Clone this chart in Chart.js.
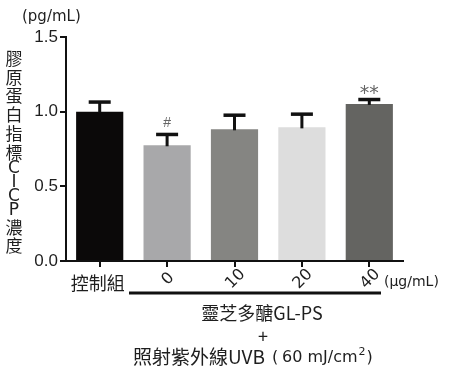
<!DOCTYPE html>
<html>
<head>
<meta charset="utf-8">
<script src="https://cdn.jsdelivr.net/npm/chart.js@4.4.1/dist/chart.umd.min.js"></script>
<style>
  html, body { margin: 0; padding: 0; background: #fff; }
</style>
</head>
<body>
<canvas id="myChart" width="450" height="370"></canvas>
<script>
// data
const groups   = ['控制組', '0', '10', '20', '40'];
const cicpMean = [1.00, 0.775, 0.882, 0.895, 1.052];
const cicpSem  = [0.066, 0.074, 0.096, 0.090, 0.031];
const marks    = ['', '#', '', '', '**'];
const yTicks   = [0, 0.5, 1.0, 1.5];
const barColors = ['#0b0909', '#a8a8aa', '#858582', '#dddddd', '#646461'];

const CJK = "'Noto Sans CJK TC', sans-serif";
const LAT = "'DejaVu Sans', 'Noto Sans CJK TC', sans-serif";
const ink = '#1e1e1e';

// error bars, stars and all the outer text
const extras = {
  id: 'extras',
  afterDatasetsDraw(chart) {
    const ctx = chart.ctx;
    const y = chart.scales.y;
    const bars = chart.getDatasetMeta(0).data;
    ctx.save();
    bars.forEach((bar, i) => {
      const top = y.getPixelForValue(cicpMean[i]);
      const errTop = y.getPixelForValue(cicpMean[i] + cicpSem[i]);
      ctx.fillStyle = '#111';
      ctx.fillRect(bar.x - 1.5, errTop, 3, top - errTop + 1);
      ctx.fillRect(bar.x - 11, errTop - 1.5, 22, 3.5);
      if (marks[i]) {
        ctx.fillStyle = '#666';
        ctx.textAlign = 'center';
        ctx.textBaseline = 'middle';
        if (marks[i] === '#') {
          ctx.font = "14px 'Liberation Sans', sans-serif";
          ctx.fillText(marks[i], bar.x, errTop - 11);
        } else {
          ctx.font = "19px 'DejaVu Sans', sans-serif";
          ctx.fillText(marks[i], bar.x, errTop - 5);
        }
      }
    });
    ctx.restore();
  },
  afterDraw(chart) {
    const ctx = chart.ctx;
    const x = chart.scales.x;
    ctx.save();
    ctx.fillStyle = ink;
    ctx.textBaseline = 'middle';

    // unit on top
    ctx.textAlign = 'left';
    ctx.font = '15px ' + LAT;
    ctx.fillText('(pg/mL)', 22, 17);

    // stacked y title, latin letters take a shorter step
    ctx.textAlign = 'center';
    const yTitle = '膠原蛋白指標CICP濃度';
    let cy = 49;
    [...yTitle].forEach(ch => {
      const latin = /[A-Z]/.test(ch);
      const adv = latin ? 14 : 18.8;
      ctx.font = latin ? '17px ' + LAT : '17px ' + CJK;
      ctx.fillText(ch, 14, cy + adv / 2);
      cy += adv;
    });

    // category labels
    groups.forEach((g, i) => {
      const px = x.getPixelForValue(i);
      if (i === 0) {
        ctx.font = '18px ' + CJK;
        ctx.fillText(g, px - 2, 283);
      } else {
        ctx.save();
        ctx.translate(px + 1, 279);
        ctx.rotate(-Math.PI / 4);
        ctx.font = '16px ' + LAT;
        ctx.fillText(g, 0, 0);
        ctx.restore();
      }
    });
    ctx.textAlign = 'left';
    ctx.font = '14px ' + LAT;
    ctx.fillText('(µg/mL)', 384, 282);

    // bracket under treated groups
    ctx.fillStyle = '#111';
    ctx.fillRect(129, 291.5, 252, 3);

    ctx.fillStyle = ink;
    ctx.textAlign = 'center';
    ctx.font = '18px ' + CJK;
    ctx.fillText('靈芝多醣GL-PS', 262, 313);
    ctx.fillText('+', 263, 336);

    // last line in pieces for the small unit and superscript
    ctx.textAlign = 'left';
    ctx.font = '19px ' + CJK;
    ctx.fillText('照射紫外線UVB', 133, 357);
    ctx.font = '16px ' + LAT;
    ctx.fillText('(', 272, 358);
    let cx = 282;
    ctx.fillText('60 mJ/cm', cx, 358);
    cx += ctx.measureText('60 mJ/cm').width + 1;
    ctx.font = '11px ' + LAT;
    ctx.fillText('2', cx, 352);
    cx += ctx.measureText('2').width + 1;
    ctx.font = '16px ' + LAT;
    ctx.fillText(')', cx, 358);
    ctx.restore();
  }
};

new Chart(document.getElementById('myChart').getContext('2d'), {
  type: 'bar',
  data: {
    labels: groups,
    datasets: [{
      data: cicpMean,
      backgroundColor: barColors,
      borderWidth: 0,
      barPercentage: 0.7,
      categoryPercentage: 1.0
    }]
  },
  options: {
    responsive: false,
    animation: false,
    devicePixelRatio: 1,
    layout: { padding: { left: 0, top: 37, right: 47, bottom: 0 } },
    plugins: {
      legend: { display: false },
      tooltip: { enabled: false }
    },
    scales: {
      x: {
        grid: { display: true, offset: false, drawOnChartArea: false, drawTicks: true, tickLength: 6, color: '#111', lineWidth: 2 },
        border: { display: true, color: '#111', width: 2 },
        ticks: { display: false },
        afterFit: s => { s.height = 109; }
      },
      y: {
        min: 0,
        max: 1.5,
        afterBuildTicks: s => { s.ticks = yTicks.map(v => ({ value: v })); },
        grid: { display: true, drawOnChartArea: false, drawTicks: true, tickLength: 6, color: '#111', lineWidth: 2 },
        border: { display: true, color: '#111', width: 2 },
        ticks: {
          color: ink,
          padding: 2,
          font: { family: "'Liberation Sans', sans-serif", size: 17 },
          callback: v => Number(v).toFixed(1)
        },
        afterFit: s => { s.width = 66; }
      }
    }
  },
  plugins: [extras]
});
</script>
</body>
</html>
